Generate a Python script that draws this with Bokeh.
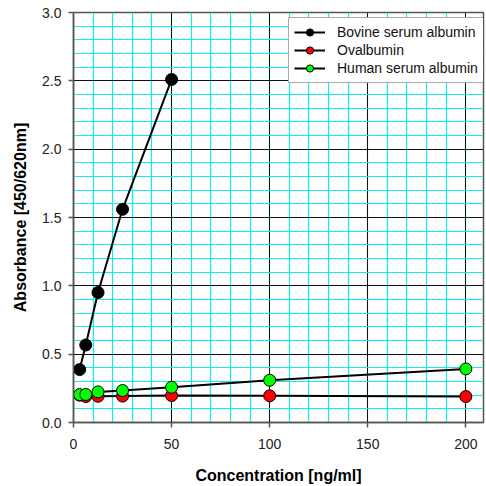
from bokeh.plotting import figure
from bokeh.models import SingleIntervalTicker, PrintfTickFormatter, Range1d, Legend, LegendItem
from bokeh.embed import file_html
from bokeh.resources import INLINE

conc = [3.125, 6.25, 12.5, 25, 50, 100, 200]
bsa_conc = [3.125, 6.25, 12.5, 25, 50]
bsa = [0.387, 0.567, 0.951, 1.56, 2.51]
ova = [0.20, 0.19, 0.192, 0.193, 0.197, 0.195, 0.19]
hsa = [0.204, 0.205, 0.224, 0.234, 0.258, 0.309, 0.392]

series = [
    ("Bovine serum albumin", bsa_conc, bsa, "#000000"),
    ("Ovalbumin", conc, ova, "#ff0000"),
    ("Human serum albumin", conc, hsa, "#00ff00"),
]

FONT = "Liberation Sans"

p = figure(width=486, height=486, output_backend="svg", toolbar_location=None,
           x_range=Range1d(0, 209), y_range=Range1d(0, 3.0),
           min_border_left=73, min_border_right=3, min_border_top=12, min_border_bottom=63)
p.background_fill_color = "white"
p.border_fill_color = "white"
p.outline_line_color = "#555555"
p.outline_line_width = 1.5

xt = SingleIntervalTicker(interval=50, num_minor_ticks=5)
yt = SingleIntervalTicker(interval=0.5, num_minor_ticks=5)
p.xaxis.ticker = xt
p.yaxis.ticker = yt
p.xgrid.ticker = xt
p.ygrid.ticker = yt
p.yaxis.formatter = PrintfTickFormatter(format="%.1f")

for g in (p.xgrid, p.ygrid):
    g.grid_line_color = "#111111"
    g.grid_line_width = 1
    g.minor_grid_line_color = "#11eeee"
    g.minor_grid_line_width = 1.2
    g.level = "underlay"

for ax in (p.xaxis, p.yaxis):
    ax.axis_line_color = "#555555"
    ax.axis_line_width = 1.5
    ax.major_tick_line_color = "#555555"
    ax.major_tick_line_width = 1.5
    ax.major_tick_out = 5
    ax.major_tick_in = 0
    ax.minor_tick_line_color = None
    ax.major_label_text_font = FONT
    ax.major_label_text_font_size = "14px"
    ax.major_label_text_color = "#222222"
    ax.axis_label_text_font = FONT
    ax.axis_label_text_font_size = "16px"
    ax.axis_label_text_font_style = "bold"
    ax.axis_label_text_color = "#000000"

p.xaxis.axis_label = "Concentration [ng/ml]"
p.yaxis.axis_label = "Absorbance [450/620nm]"
p.xaxis.major_label_standoff = 11
p.yaxis.major_label_standoff = 7
p.xaxis.axis_label_standoff = 15
p.yaxis.axis_label_standoff = 10

items = []
for name, xs, ys, col in series:
    l = p.line(xs, ys, line_color="black", line_width=2)
    s = p.scatter(xs, ys, size=12, fill_color=col, line_color="black", line_width=1)
    items.append(LegendItem(label=name, renderers=[l, s]))

legend = Legend(items=items, location=(215, 339))
legend.margin = 0
legend.padding = 5
legend.spacing = 0
legend.glyph_width = 31
legend.glyph_height = 18
legend.label_height = 18
legend.label_standoff = 12
legend.label_text_font = FONT
legend.label_text_font_size = "14px"
legend.label_text_color = "#111111"
legend.border_line_color = "#555555"
legend.border_line_width = 1.5
legend.background_fill_color = "white"
legend.background_fill_alpha = 1.0
p.add_layout(legend)

open("out.html", "w").write(file_html(p, INLINE))
